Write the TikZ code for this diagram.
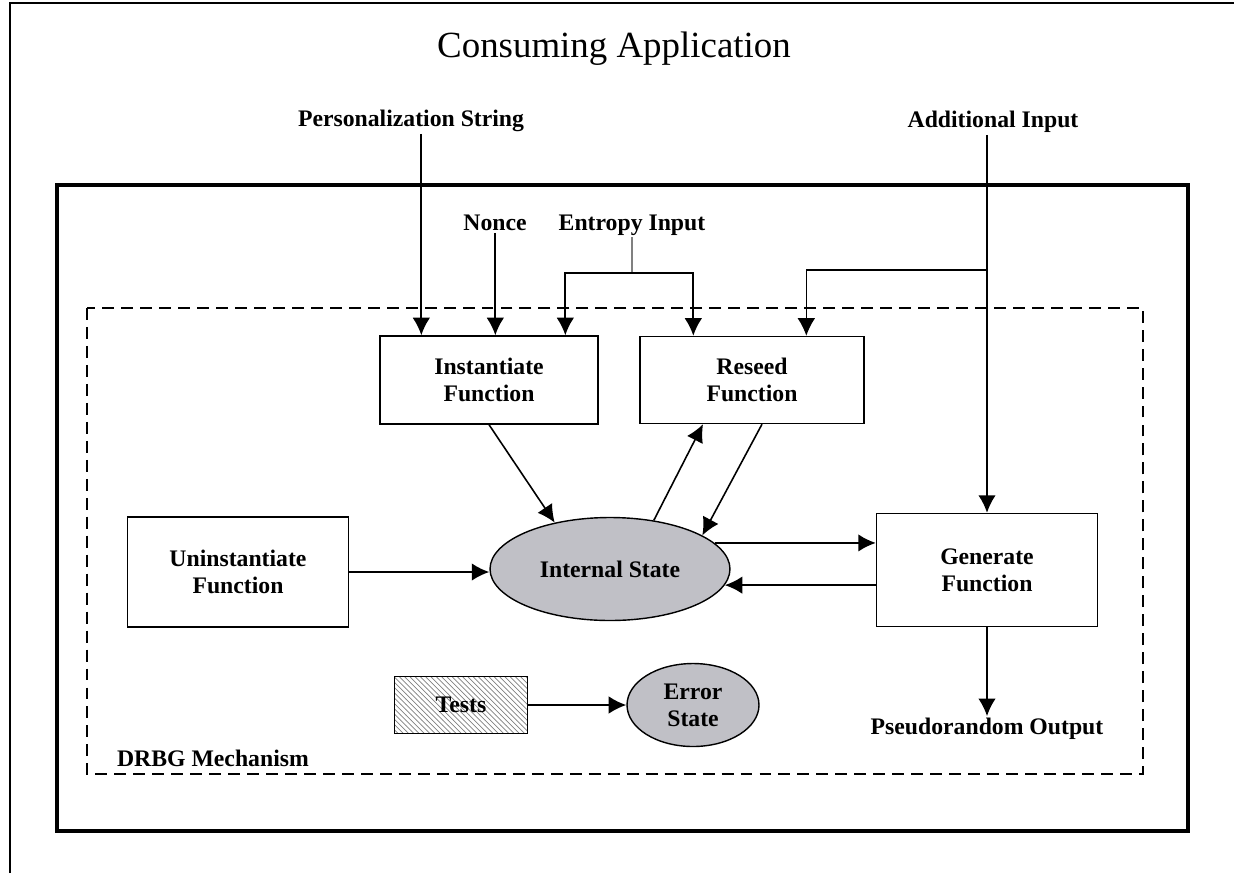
\documentclass[tikz,border=0pt]{standalone}
\usepackage{fontspec}
\setmainfont{Liberation Serif}
\usetikzlibrary{arrows.meta, shapes.geometric, patterns, calc}

\definecolor{stategray}{RGB}{192,192,198}

\begin{document}
\begin{tikzpicture}[x = 0.02cm, y = -0.02cm,
	> = {Latex[length=10pt, width=10pt]},
	lbl/.style = {font = \fontsize{13.5}{15.5}\selectfont\bfseries, inner sep = 1pt},
	func/.style = {draw, line width = 0.8pt, align = center, lbl, minimum width = 4.42cm, minimum height = 1.76cm},
	state/.style = {ellipse, draw, line width = 0.8pt, fill = stategray, align = center, lbl},
	flow/.style = {->, line width = 1.1pt}]

	% Page size
	
	\useasboundingbox (0, 0) rectangle (1234, 873);

	% Consuming application
	
	\draw [line width = 1.2pt] (10, 873) -- (10, 3) -- (1234, 3);
	\node [font = \fontsize{21}{24}\selectfont] (app) at (614, 49) {Consuming Application};
	
	% DRBG boundary and mechanism boundary
	
	\draw [line width = 2.8pt] (57, 185) rectangle (1188, 831);
	\draw [dash pattern = on 6.8pt off 4pt, line width = 0.6pt] (87, 308) rectangle (1143, 774);
	\node [lbl, anchor = west] (mech) at (115, 758) {DRBG Mechanism};

	% Functions and states
	
	\node [func, minimum width = 4.36cm] (inst) at (489, 380) {Instantiate\\Function};
	\node [func, minimum width = 4.48cm, minimum height = 1.74cm] (rese) at (752, 380) {Reseed\\Function};
	\node [func, minimum height = 2.2cm] (unin) at (238, 572) {Uninstantiate\\Function};
	\node [func, minimum height = 2.26cm] (gen) at (987, 570) {Generate\\Function};
	\node [state, minimum width = 4.8cm, minimum height = 2.06cm] (int) at (610, 569) {Internal State};
	\node [draw, line width = 0.8pt, pattern = north west lines, pattern color = gray, lbl,
		minimum width = 2.66cm, minimum height = 1.14cm] (tests) at (461, 705) {Tests};
	\node [state, minimum width = 2.64cm, minimum height = 1.66cm] (err) at (693, 705) {Error\\State};
	
	% Inputs and output
	
	\node [lbl] (pers) at (411, 121) {Personalization String};
	\node [lbl] (nonce) at (495, 223) {Nonce};
	\node [lbl] (entr) at (632, 225) {Entropy Input};
	\node [lbl] (addin) at (993, 122) {Additional Input};
	\node [lbl] (out) at (987, 729) {Pseudorandom Output};
	
	% Entry points
	
	\coordinate (inPers) at ($(inst.north west) + (42, 0)$);
	\coordinate (inNonce) at ($(inst.north west) + (116, 0)$);
	\coordinate (inEntr) at ($(inst.north west) + (186, 0)$);
	\coordinate (reEntr) at ($(rese.north west) + (54, 0)$);
	\coordinate (reAdd) at ($(rese.north west) + (167, 0)$);
	\coordinate (entrJoin) at (632, 273);
	\coordinate (addJoin) at (987, 270);
	
	% Input arrows
	
	\draw [flow] (pers.south -| inPers) -- (inPers);
	\draw [flow] (nonce.south -| inNonce) -- (inNonce);
	\draw [gray, line width = 1.1pt] (entr.south) -- (entrJoin);
	\draw [flow] (entrJoin) -| (inEntr);
	\draw [flow] (entrJoin) -| (reEntr);
	\draw [flow] (addin.south -| gen.north) -- (gen.north);
	\draw [flow, line width = 0.8pt] (addJoin) -| (reAdd);
	
	% Internal state arrows
	
	\draw [flow, line width = 0.9pt] (inst.south) -- (int.140);
	\draw [flow, line width = 0.9pt] (int.48) -- ($(rese.south) + (-49, 0)$);
	\draw [flow, line width = 0.9pt] ($(rese.south) + (10, 0)$) -- (int.20);
	\draw [flow] (int.14) -- (int.14 -| gen.west);
	\draw [flow] (int.-8 -| gen.west) -- (int.-8);
	\draw [flow] (unin.east) -- (unin.east -| int.west);
	\draw [flow] (gen.south) -- (out.north);
	\draw [flow] (tests.east) -- (err.west);

\end{tikzpicture}
\end{document}
